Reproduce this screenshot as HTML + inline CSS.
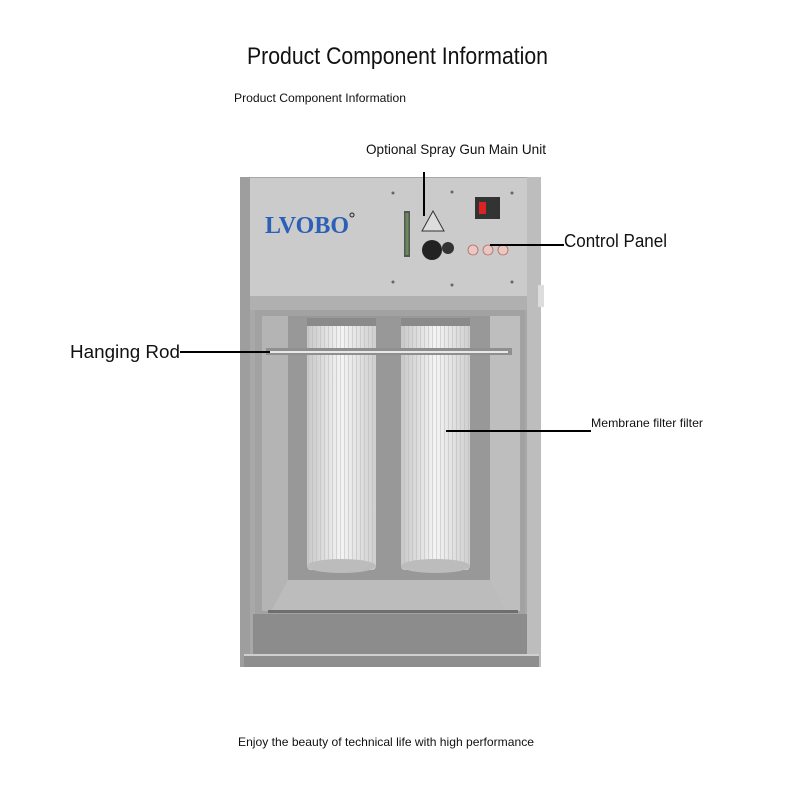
<!DOCTYPE html>
<html><head><meta charset="utf-8"><style>
html,body{margin:0;padding:0;background:#fff;width:800px;height:800px;overflow:hidden}
svg{display:block}
text{font-family:"Liberation Sans",sans-serif;fill:#111}
</style></head><body>
<svg width="800" height="800" viewBox="0 0 800 800" xmlns="http://www.w3.org/2000/svg">
<defs>
<linearGradient id="cyl" x1="0" x2="1" y1="0" y2="0">
<stop offset="0" stop-color="#c8c8c8"/><stop offset="0.5" stop-color="#f4f4f4"/><stop offset="1" stop-color="#cfcfcf"/>
</linearGradient>
<linearGradient id="side" x1="0" x2="1"><stop offset="0" stop-color="#9a9a9a"/><stop offset="1" stop-color="#b8b8b8"/></linearGradient>
<pattern id="pleat" width="4" height="10" patternUnits="userSpaceOnUse"><rect width="1" height="10" fill="#b8b8b8" opacity="0.5"/></pattern>
</defs>
<!-- titles -->
<text x="247" y="64" font-size="24" textLength="301" lengthAdjust="spacingAndGlyphs">Product Component Information</text>
<text x="234" y="102" font-size="12" textLength="172" lengthAdjust="spacingAndGlyphs">Product Component Information</text>
<text x="366" y="154" font-size="14" textLength="180" lengthAdjust="spacingAndGlyphs">Optional Spray Gun Main Unit</text>
<text x="564" y="247" font-size="18" textLength="103" lengthAdjust="spacingAndGlyphs">Control Panel</text>
<text x="70" y="358" font-size="18" textLength="110" lengthAdjust="spacingAndGlyphs">Hanging Rod</text>
<text x="591" y="427" font-size="12" textLength="112" lengthAdjust="spacingAndGlyphs">Membrane filter filter</text>
<text x="238" y="746" font-size="12" textLength="296" lengthAdjust="spacingAndGlyphs">Enjoy the beauty of technical life with high performance</text>
<!-- cabinet -->
<rect x="240" y="177" width="301" height="490" fill="#a8a8a8"/>
<rect x="527" y="177" width="14" height="490" fill="#bdbdbd"/>
<rect x="240" y="177" width="10" height="490" fill="#9e9e9e"/>
<!-- top panel -->
<rect x="250" y="178" width="277" height="130" fill="#cbcbcb"/>
<rect x="250" y="296" width="277" height="14" fill="#b0b0b0"/>
<!-- cavity -->
<rect x="255" y="310" width="270" height="305" fill="#a2a2a2"/>
<rect x="262" y="316" width="26" height="295" fill="#b4b4b4"/>
<rect x="490" y="316" width="30" height="295" fill="#bebebe"/>
<rect x="288" y="316" width="202" height="265" fill="#989898"/>
<polygon points="288,580 490,580 505,610 272,610" fill="#bcbcbc"/>
<rect x="268" y="610" width="250" height="3" fill="#6e6e6e"/>
<!-- plinth -->
<rect x="253" y="614" width="274" height="40" fill="#8c8c8c"/>
<rect x="244" y="654" width="295" height="2" fill="#cfcfcf"/>
<rect x="244" y="656" width="295" height="11" fill="#8e8e8e"/>
<!-- filters -->
<rect x="307" y="318" width="69" height="252" rx="4" fill="url(#cyl)"/>
<rect x="307" y="318" width="69" height="252" fill="url(#pleat)"/>
<rect x="307" y="318" width="69" height="8" fill="#8a8a8a"/>
<ellipse cx="341.5" cy="566" rx="34.5" ry="7" fill="#bcbcbc"/>
<rect x="401" y="318" width="69" height="252" rx="4" fill="url(#cyl)"/>
<rect x="401" y="318" width="69" height="252" fill="url(#pleat)"/>
<rect x="401" y="318" width="69" height="8" fill="#8a8a8a"/>
<ellipse cx="435.5" cy="566" rx="34.5" ry="7" fill="#bcbcbc"/>
<!-- rod -->
<rect x="266" y="348" width="246" height="7" fill="#8f8f8f"/>
<rect x="270" y="351" width="238" height="2" fill="#e8e8e8"/>
<!-- panel details -->
<text x="265" y="233" font-size="24" font-family="Liberation Serif" font-weight="bold" style="fill:#2b5fb8;font-family:'Liberation Serif',serif" textLength="84" lengthAdjust="spacingAndGlyphs">LVOBO</text>
<circle cx="352" cy="215" r="2" fill="none" stroke="#222" stroke-width="1"/>
<rect x="404" y="211" width="6" height="46" fill="#555"/>
<rect x="405.5" y="213" width="3" height="42" fill="#6a8a5a"/>
<polygon points="433,211 422,231 444,231" fill="#ddd" stroke="#333" stroke-width="1"/>
<circle cx="432" cy="250" r="10" fill="#222"/>
<circle cx="448" cy="248" r="6" fill="#333"/>
<rect x="475" y="197" width="25" height="22" fill="#333"/>
<rect x="479" y="202" width="7" height="12" fill="#d22"/>
<circle cx="473" cy="250" r="5" fill="#e8c8c0" stroke="#b66" stroke-width="0.8"/>
<circle cx="488" cy="250" r="5" fill="#e8c8c0" stroke="#b66" stroke-width="0.8"/>
<circle cx="503" cy="250" r="5" fill="#e8c8c0" stroke="#b66" stroke-width="0.8"/>
<circle cx="393" cy="193" r="1.5" fill="#666"/><circle cx="452" cy="192" r="1.5" fill="#666"/><circle cx="512" cy="193" r="1.5" fill="#666"/>
<circle cx="393" cy="282" r="1.5" fill="#666"/><circle cx="452" cy="285" r="1.5" fill="#666"/><circle cx="512" cy="282" r="1.5" fill="#666"/>
<rect x="538" y="285" width="6" height="22" fill="#ddd"/>
<!-- leader lines -->
<line x1="424" y1="172" x2="424" y2="216" stroke="#000" stroke-width="2"/>
<line x1="490" y1="245" x2="564" y2="245" stroke="#000" stroke-width="2"/>
<line x1="180" y1="352" x2="270" y2="352" stroke="#000" stroke-width="2"/>
<line x1="446" y1="431" x2="591" y2="431" stroke="#000" stroke-width="2"/>
</svg>
</body></html>
